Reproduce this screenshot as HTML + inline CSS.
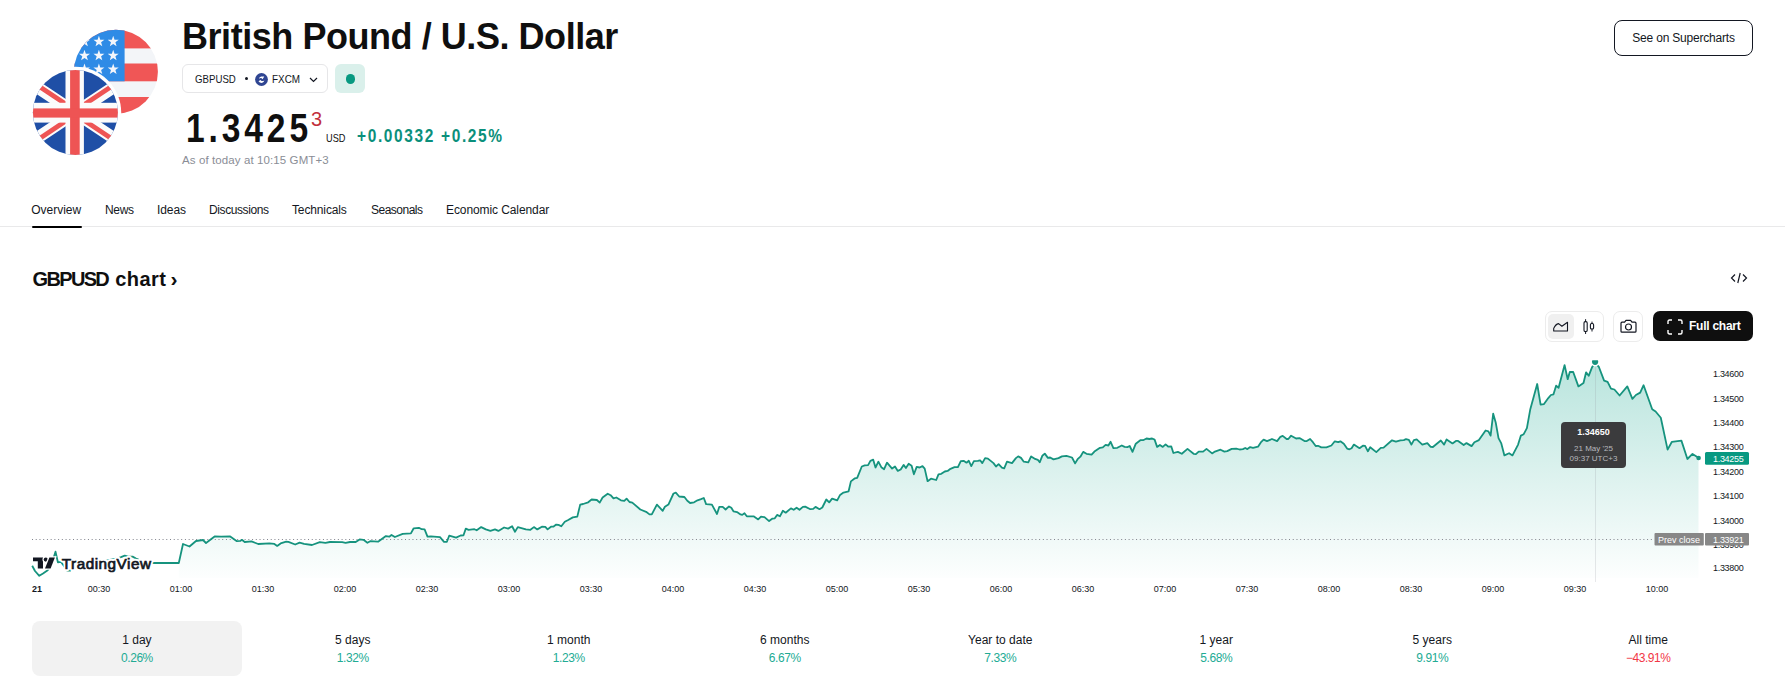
<!DOCTYPE html>
<html lang="en">
<head>
<meta charset="utf-8">
<title>British Pound / U.S. Dollar</title>
<style>
*{box-sizing:border-box;margin:0;padding:0}
html,body{width:1785px;height:699px;overflow:hidden;background:#fff}
body{font-family:"Liberation Sans",Arial,sans-serif;color:#131722;position:relative}
.a{position:absolute;white-space:nowrap}
.t{position:absolute;white-space:nowrap}
.btn-sc{left:1614px;top:20px;width:139px;height:35.5px;border:1px solid #131722;border-radius:8px;font-size:12px;line-height:34.5px;text-align:center;letter-spacing:-0.2px}
.pill{left:182px;top:64px;width:146px;height:29px;border:1px solid #e6e6e8;border-radius:6px}
.live{left:335px;top:64px;width:30px;height:29px;border-radius:6px;background:#daf0eb}
.live i{position:absolute;left:10.5px;top:10px;width:9.5px;height:9.5px;border-radius:50%;background:#089981}
.tabs span{position:absolute;top:203px;font-size:12px;line-height:14px}
.uline{left:32px;top:225.5px;width:50px;height:2.5px;background:#000;border-radius:1px}
.sep{left:0;top:226px;width:1785px;height:1px;background:#e9e9ea}
.perf{position:absolute;top:621px;height:55px;width:209.5px;border-radius:8px;text-align:center}
.perf.on{background:#f2f2f2}
.perf b{display:block;font-weight:normal;font-size:12px;line-height:14px;margin-top:12px;color:#131722}
.perf i{display:block;font-style:normal;font-size:12px;line-height:14px;margin-top:3.5px;letter-spacing:-0.45px;color:#22ab94}
.perf i.neg{color:#f23645}
.tb{position:absolute;top:311px;height:30.5px;border:1px solid #ececec;border-radius:7px}
.full{position:absolute;left:1653px;top:311px;width:100px;height:30px;background:#0f0f0f;border-radius:7px;color:#fff;font-weight:bold;font-size:12px;line-height:30px}
</style>
</head>
<body>
<!-- flags -->
<svg class="a" style="left:0;top:0" width="170" height="170" viewBox="0 0 170 170">
  <defs>
    <clipPath id="cus"><circle cx="115.9" cy="71.8" r="42"/></clipPath>
    <clipPath id="cuk"><circle cx="75.4" cy="112.6" r="42.5"/></clipPath>
  </defs>
  <g clip-path="url(#cus)">
    <rect x="70" y="26" width="92" height="92" fill="#f3f5f8"/>
    <rect x="70" y="26" width="92" height="22.4" fill="#f05656"/>
    <rect x="70" y="63.5" width="92" height="17.8" fill="#f05656"/>
    <rect x="70" y="97" width="92" height="21" fill="#f05656"/>
    <rect x="70" y="26" width="54.6" height="55.3" fill="#2f8be6"/>
    <polygon points="84.50,35.80 85.85,39.75 90.00,39.80 86.70,42.30 87.90,46.30 84.50,43.90 81.10,46.30 82.30,42.30 79.00,39.80 83.15,39.75" fill="#f4f6fb"/><polygon points="98.90,35.80 100.25,39.75 104.40,39.80 101.10,42.30 102.30,46.30 98.90,43.90 95.50,46.30 96.70,42.30 93.40,39.80 97.55,39.75" fill="#f4f6fb"/><polygon points="113.20,35.80 114.55,39.75 118.70,39.80 115.40,42.30 116.60,46.30 113.20,43.90 109.80,46.30 111.00,42.30 107.70,39.80 111.85,39.75" fill="#f4f6fb"/>
    <polygon points="84.50,49.80 85.85,53.75 90.00,53.80 86.70,56.30 87.90,60.30 84.50,57.90 81.10,60.30 82.30,56.30 79.00,53.80 83.15,53.75" fill="#f4f6fb"/><polygon points="98.90,49.80 100.25,53.75 104.40,53.80 101.10,56.30 102.30,60.30 98.90,57.90 95.50,60.30 96.70,56.30 93.40,53.80 97.55,53.75" fill="#f4f6fb"/><polygon points="113.20,49.80 114.55,53.75 118.70,53.80 115.40,56.30 116.60,60.30 113.20,57.90 109.80,60.30 111.00,56.30 107.70,53.80 111.85,53.75" fill="#f4f6fb"/>
    <polygon points="84.50,63.60 85.85,67.55 90.00,67.60 86.70,70.10 87.90,74.10 84.50,71.70 81.10,74.10 82.30,70.10 79.00,67.60 83.15,67.55" fill="#f4f6fb"/><polygon points="98.90,63.60 100.25,67.55 104.40,67.60 101.10,70.10 102.30,74.10 98.90,71.70 95.50,74.10 96.70,70.10 93.40,67.60 97.55,67.55" fill="#f4f6fb"/><polygon points="113.20,63.60 114.55,67.55 118.70,67.60 115.40,70.10 116.60,74.10 113.20,71.70 109.80,74.10 111.00,70.10 107.70,67.60 111.85,67.55" fill="#f4f6fb"/>
  </g>
  <circle cx="75.4" cy="112.6" r="45.8" fill="#fff"/>
  <g clip-path="url(#cuk)">
    <rect x="30" y="68" width="92" height="92" fill="#1f4fa6"/>
    <path d="M11.6,70.1 L139.2,155.1 M11.6,155.1 L139.2,70.1" stroke="#fbfbfb" stroke-width="12"/>
    <path d="M11.6,68.1 L75.4,110.6 M139.2,157.1 L75.4,114.6 M11.6,157.1 L75.4,114.6 M139.2,68.1 L75.4,110.6" stroke="#ee5454" stroke-width="4.8"/>
    <rect x="65.5" y="68" width="18.4" height="92" fill="#fbfbfb"/>
    <rect x="30" y="102.8" width="92" height="19.8" fill="#fbfbfb"/>
    <rect x="70.1" y="68" width="9.6" height="92" fill="#ee5454"/>
    <rect x="30" y="108.4" width="92" height="9.2" fill="#ee5454"/>
  </g>
</svg>

<div class="t" style="left:182px;top:19px;font-size:36px;line-height:36px;font-weight:bold;letter-spacing:-0.45px;color:#0f0f0f">British Pound / U.S. Dollar</div>

<div class="a pill">
  <span class="t" style="left:11.8px;top:7.7px;font-size:11.5px;line-height:12px;transform:scaleX(0.84);transform-origin:0 0">GBPUSD</span>
  <span class="t" style="left:61.5px;top:12px;width:3px;height:3px;border-radius:50%;background:#131722"></span>
  <svg class="a" style="left:71.9px;top:8.1px" width="13" height="13" viewBox="0 0 13 13"><circle cx="6.5" cy="6.5" r="6.4" fill="#2f4592"/><path d="M3.9,5.7 Q4.3,4 6.2,3.5 L9.3,3.6 L7.5,6.3 L6.3,5.1 Q5,5 3.9,5.7 Z M3.5,8.2 L5.4,6.9 L6.6,8 Q8.2,8 9.4,7.5 Q9,9.3 6.8,9.9 Q4.6,9.9 3.5,8.2 Z" fill="#fff"/></svg>
  <span class="t" style="left:89px;top:7.7px;font-size:11.5px;line-height:12px;transform:scaleX(0.86);transform-origin:0 0">FXCM</span>
  <svg class="a" style="left:126px;top:12px" width="9" height="6" viewBox="0 0 9 6"><path d="M1,1 L4.5,4.5 L8,1" stroke="#131722" stroke-width="1.2" fill="none"/></svg>
</div>
<div class="a live"><i></i></div>

<div class="t" style="left:185.5px;top:108px;font-size:40px;line-height:40px;font-weight:bold;letter-spacing:4.6px;transform:scaleX(0.84);transform-origin:0 0;color:#0f0f0f">1.3425</div>
<div class="t" style="left:311px;top:109px;font-size:20px;line-height:20px;color:#c22f3b">3</div>
<div class="t" style="left:326px;top:132px;font-size:11.5px;line-height:12px;transform:scaleX(0.8);transform-origin:0 0;color:#0f0f0f">USD</div>
<div class="t" style="left:357px;top:126px;font-size:18px;line-height:20px;font-weight:bold;letter-spacing:1.9px;transform:scaleX(0.86);transform-origin:0 0;color:#0b8f7b">+0.00332 +0.25%</div>
<div class="t" style="left:182px;top:154px;font-size:11.5px;line-height:12px;letter-spacing:0.1px;color:#8a8d96">As of today at 10:15 GMT+3</div>

<div class="a btn-sc">See on Supercharts</div>

<div class="tabs">
  <span style="left:31.2px">Overview</span>
  <span style="left:105px;letter-spacing:-0.3px">News</span>
  <span style="left:157px;letter-spacing:-0.1px">Ideas</span>
  <span style="left:209px;letter-spacing:-0.4px">Discussions</span>
  <span style="left:292px;letter-spacing:-0.13px">Technicals</span>
  <span style="left:371px;letter-spacing:-0.5px">Seasonals</span>
  <span style="left:446px;letter-spacing:-0.09px">Economic Calendar</span>
</div>
<div class="a sep"></div>
<div class="a uline"></div>

<div class="t" style="left:32.5px;top:269px;font-size:20px;line-height:20px;font-weight:bold;color:#0f0f0f"><span style="letter-spacing:-1.65px">GBPUSD</span> <span style="letter-spacing:0.45px;margin-left:1.5px">chart</span><span style="margin-left:4px;font-size:21px">›</span></div>

<!-- embed icon -->
<svg class="a" style="left:1729px;top:270px" width="20" height="16" viewBox="0 0 20 16"><path d="M6,4.5 L2.5,8 L6,11.5 M14,4.5 L17.5,8 L14,11.5 M11.2,3 L8.8,13" stroke="#131722" stroke-width="1.2" fill="none"/></svg>

<!-- chart toolbar -->
<div class="tb" style="left:1545px;width:58.5px"></div>
<div class="a" style="left:1547.5px;top:314px;width:26.5px;height:25px;border-radius:5px;background:#f0f0f0"></div>
<svg class="a" style="left:1550px;top:316px" width="22" height="20" viewBox="0 0 22 20"><path d="M3.7,15 L3.7,12.4 Q5.5,8.2 8.6,7.6 L11.9,10.3 L17.5,6.3 L17.5,15 Z" stroke="#131722" stroke-width="1.1" fill="none" stroke-linejoin="round"/></svg>
<svg class="a" style="left:1578px;top:316px" width="22" height="20" viewBox="0 0 22 20"><path d="M7.6,3.2 V18 M14,5.6 V15.5" stroke="#131722" stroke-width="1"/><rect x="6" y="5.6" width="3.2" height="9.9" rx="1.3" stroke="#131722" stroke-width="1.1" fill="#fff"/><rect x="12.4" y="7.5" width="3.2" height="5.5" rx="1.3" stroke="#131722" stroke-width="1.1" fill="#fff"/></svg>
<div class="tb" style="left:1613.3px;width:30px"></div>
<svg class="a" style="left:1617px;top:316px" width="22" height="20" viewBox="0 0 22 20"><path d="M4,7.2 Q4,6.2 5,6.2 L7.6,6.2 L9,4.4 L13.6,4.4 L15,6.2 L18,6.2 Q19,6.2 19,7.2 L19,15.2 Q19,16.2 18,16.2 L5,16.2 Q4,16.2 4,15.2 Z" stroke="#131722" stroke-width="1.2" fill="none" stroke-linejoin="round"/><circle cx="11.5" cy="11" r="3" stroke="#131722" stroke-width="1.2" fill="none"/></svg>
<div class="full">
  <svg class="a" style="left:14px;top:7.5px" width="16" height="16" viewBox="0 0 16 16"><path d="M1,5 V2.5 Q1,1 2.5,1 H5 M11,1 H13.5 Q15,1 15,2.5 V5 M15,11 V13.5 Q15,15 13.5,15 H11 M5,15 H2.5 Q1,15 1,13.5 V11" stroke="#fff" stroke-width="1.4" fill="none"/></svg>
  <span class="t" style="left:36px;top:0;letter-spacing:-0.25px">Full chart</span>
</div>

<!-- chart -->
<svg class="a" style="left:0;top:0" width="1785" height="699" viewBox="0 0 1785 699">
  <defs>
    <linearGradient id="gf" x1="0" y1="360" x2="0" y2="578" gradientUnits="userSpaceOnUse">
      <stop offset="0" stop-color="#22ab94" stop-opacity="0.32"/>
      <stop offset="1" stop-color="#22ab94" stop-opacity="0.01"/>
    </linearGradient>
  </defs>
  <clipPath id="pane"><rect x="0" y="360.2" width="1705" height="218"/></clipPath>
  <path d="M178.8,563.0 L183.0,544.0 L189.5,546.5 L196.0,541.0 L203.0,540.0 L206.0,543.0 L210.0,540.0 L214.6,536.5 L221.2,536.7 L230.2,536.4 L236.9,541.2 L240.3,540.9 L241.9,539.8 L244.7,542.0 L251.5,541.4 L258.2,544.0 L269.4,543.4 L274.4,543.9 L277.2,545.9 L280.6,543.4 L286.2,541.7 L288.4,541.9 L295.2,544.5 L299.6,542.6 L304.1,543.9 L312.0,545.0 L319.8,542.2 L325.4,542.9 L329.9,542.0 L342.2,542.2 L345.6,542.9 L350.0,542.0 L355.7,542.0 L359.6,539.4 L363.5,539.8 L367.4,542.8 L370.2,541.2 L378.1,541.7 L385.9,536.1 L389.3,536.7 L391.5,534.9 L394.9,537.0 L402.7,533.8 L410.9,533.4 L413.7,528.3 L418.9,527.8 L421.7,529.2 L424.6,529.4 L427.5,536.6 L430.9,536.3 L440.0,537.2 L444.0,541.8 L446.9,541.8 L449.2,535.7 L456.1,537.6 L460.6,535.5 L463.5,535.3 L465.8,528.6 L468.6,529.8 L474.4,529.2 L476.7,530.3 L481.2,527.1 L485.8,529.4 L490.4,530.9 L495.0,529.4 L498.4,530.9 L504.1,527.5 L508.1,528.6 L512.1,526.3 L515.0,531.7 L517.8,527.1 L525.9,529.4 L530.4,529.8 L533.9,527.1 L537.3,529.4 L541.9,526.7 L545.3,526.9 L547.6,529.4 L551.0,526.7 L553.3,526.7 L556.2,524.6 L558.5,524.9 L561.3,526.3 L564.8,521.8 L568.2,520.0 L572.8,517.4 L577.3,516.6 L580.2,504.6 L583.1,504.0 L588.2,502.3 L591.6,499.5 L596.9,500.0 L599.7,502.6 L602.6,497.5 L607.7,493.7 L610.6,495.2 L613.5,498.4 L616.3,497.5 L620.9,500.3 L624.3,500.9 L626.6,498.6 L629.5,502.0 L632.3,502.6 L640.3,509.5 L646.1,511.8 L649.5,514.4 L651.8,514.4 L656.9,504.6 L662.7,510.8 L664.9,506.8 L668.4,504.6 L673.5,493.5 L675.8,492.7 L679.2,496.5 L684.4,497.0 L687.3,500.7 L690.1,503.0 L694.1,502.3 L697.5,500.3 L701.0,499.2 L703.8,498.0 L706.1,504.1 L711.9,504.6 L717.0,514.0 L719.3,506.8 L722.7,506.8 L725.6,509.5 L729.0,506.4 L731.3,507.8 L733.6,511.4 L737.0,512.1 L740.5,514.4 L742.2,514.9 L744.5,513.2 L746.8,516.3 L753.6,516.3 L758.2,519.4 L761.0,516.7 L764.5,517.1 L769.1,521.1 L772.5,518.6 L774.8,518.3 L777.1,514.9 L779.9,516.3 L782.9,510.7 L785.7,512.7 L790.9,508.4 L793.7,509.8 L796.6,507.7 L799.5,509.8 L802.9,506.9 L805.2,506.6 L810.3,509.2 L813.2,508.9 L815.5,506.9 L819.5,509.2 L822.3,507.5 L826.3,499.5 L829.2,502.4 L832.1,498.6 L837.2,500.4 L840.1,494.9 L843.5,492.6 L848.6,491.3 L850.9,481.4 L854.9,478.3 L857.2,477.8 L861.8,466.5 L864.7,465.4 L868.1,465.2 L870.4,460.8 L873.2,459.7 L875.5,467.5 L878.4,461.7 L881.3,467.2 L884.1,469.2 L887.0,462.7 L892.1,468.6 L895.0,466.5 L897.8,470.9 L900.7,469.5 L903.6,464.9 L905.9,468.0 L908.7,463.8 L911.6,465.7 L913.9,474.3 L916.7,466.9 L919.6,467.5 L922.5,466.1 L924.7,468.6 L927.6,481.2 L931.0,478.7 L936.2,480.0 L938.5,474.3 L941.3,473.8 L944.8,471.5 L947.6,470.9 L950.5,468.8 L954.5,467.2 L957.9,467.2 L960.8,461.2 L963.6,460.8 L966.5,462.7 L968.8,460.8 L971.3,466.1 L973.9,461.2 L977.8,460.9 L980.1,460.3 L982.3,463.1 L985.1,458.1 L987.9,458.6 L993.5,463.1 L996.0,466.5 L998.6,464.2 L1001.9,467.6 L1004.2,468.4 L1007.0,461.7 L1012.0,463.1 L1015.9,458.1 L1018.2,456.4 L1021.0,457.9 L1023.8,461.7 L1028.3,462.3 L1031.1,456.4 L1034.4,458.6 L1037.8,459.8 L1039.7,462.3 L1042.3,455.8 L1044.8,453.6 L1047.9,457.9 L1050.1,457.5 L1053.5,459.4 L1058.5,458.1 L1061.9,456.4 L1066.4,455.8 L1072.0,457.5 L1075.1,463.4 L1077.6,459.2 L1080.4,456.7 L1083.2,451.9 L1086.5,453.8 L1091.6,454.7 L1094.4,451.6 L1100.0,447.8 L1102.8,447.4 L1105.6,444.9 L1108.4,445.5 L1110.6,441.8 L1113.4,448.2 L1117.3,447.8 L1121.8,445.5 L1124.6,446.9 L1127.4,447.1 L1129.7,446.0 L1132.5,451.9 L1135.8,443.7 L1140.3,440.2 L1143.1,440.2 L1146.5,438.5 L1149.3,439.0 L1152.1,438.5 L1154.6,439.6 L1157.1,446.9 L1159.9,444.9 L1162.8,446.9 L1165.6,444.4 L1168.4,446.7 L1171.2,446.3 L1173.4,453.0 L1177.9,451.9 L1181.8,453.8 L1187.5,448.9 L1193.6,453.8 L1195.9,454.2 L1198.7,451.6 L1203.1,451.6 L1206.5,448.9 L1212.1,453.4 L1214.9,451.6 L1220.5,449.7 L1224.4,451.6 L1227.2,451.1 L1231.7,448.9 L1236.2,448.6 L1239.6,449.5 L1242.9,449.1 L1245.2,448.0 L1247.4,449.1 L1250.2,447.1 L1253.0,447.8 L1258.0,446.7 L1260.8,442.4 L1263.6,439.6 L1267.0,441.1 L1272.0,439.0 L1277.1,441.1 L1280.4,436.8 L1282.7,435.9 L1286.6,439.0 L1288.3,439.0 L1291.1,435.7 L1296.1,438.5 L1299.5,438.1 L1304.5,441.1 L1306.8,441.1 L1310.1,439.0 L1312.9,442.2 L1315.7,446.0 L1318.0,445.8 L1321.3,447.4 L1326.4,447.4 L1331.4,445.5 L1334.8,441.3 L1338.2,442.2 L1340.4,441.3 L1343.8,443.7 L1347.1,448.6 L1349.4,449.3 L1351.6,448.2 L1353.9,444.6 L1359.5,448.2 L1362.9,445.7 L1365.1,445.9 L1367.9,451.3 L1370.2,447.3 L1376.3,452.1 L1380.8,447.9 L1383.6,447.6 L1392.0,440.3 L1395.9,441.7 L1400.4,440.3 L1403.8,440.1 L1406.0,439.2 L1408.8,439.8 L1411.4,444.6 L1413.9,440.1 L1416.7,439.4 L1422.3,444.6 L1427.3,443.1 L1430.7,446.8 L1432.9,447.0 L1440.8,440.5 L1444.1,444.6 L1446.6,439.4 L1452.5,443.4 L1455.9,440.9 L1458.1,440.9 L1463.7,445.0 L1466.5,443.1 L1471.6,446.1 L1474.4,442.3 L1478.9,440.1 L1485.6,430.5 L1488.4,431.4 L1490.6,435.6 L1493.2,413.7 L1495.7,422.4 L1498.5,438.1 L1501.3,443.4 L1504.4,455.4 L1509.1,453.2 L1512.5,455.4 L1518.1,444.6 L1520.9,435.6 L1523.7,434.2 L1526.9,428.1 L1530.3,409.2 L1537.2,384.0 L1540.6,404.6 L1544.0,404.1 L1548.3,398.1 L1550.9,395.0 L1553.5,394.3 L1556.1,385.7 L1558.6,387.8 L1564.6,365.1 L1567.7,379.2 L1569.8,372.0 L1573.2,372.0 L1578.4,386.4 L1583.5,383.0 L1586.1,372.3 L1588.7,375.8 L1592.1,367.2 L1595.0,362.4 L1599.0,367.2 L1604.1,380.6 L1607.6,381.8 L1611.0,388.6 L1614.4,389.5 L1619.6,395.5 L1627.3,386.4 L1632.4,398.9 L1635.9,395.0 L1640.2,392.6 L1643.6,385.2 L1652.2,409.2 L1655.6,411.5 L1660.8,417.8 L1667.6,449.6 L1671.9,441.8 L1681.4,440.6 L1687.4,459.0 L1692.5,453.9 L1698.5,457.8 L1698.5,578 L178.8,578 Z" fill="url(#gf)"/>
  <line x1="32" y1="539.5" x2="1654" y2="539.5" stroke="#80838c" stroke-width="1" stroke-dasharray="1 2.73"/>
  <line x1="1595.5" y1="362" x2="1595.5" y2="582" stroke="#9598a1" stroke-width="1" opacity="0.22"/>
  <path d="M32.2,565.8 L35.0,571.0 L39.3,575.8 L43.0,573.5 L47.7,570.2 L51.0,566.0 L55.5,551.7 L57.9,562.3 L61.0,561.9 L64.0,566.0 L67.0,570.6 L70.0,570.6 L75.0,568.0 L82.0,566.0 L90.0,564.0 L100.0,562.0 L110.0,560.0 L117.0,558.5 L121.0,557.2 L124.8,555.6 L128.0,556.6 L132.6,556.6 L136.0,558.5 L142.0,561.0 L148.0,562.5 L153.0,563.0 L178.8,563.0 L183.0,544.0 L189.5,546.5 L196.0,541.0 L203.0,540.0 L206.0,543.0 L210.0,540.0 L214.6,536.5 L221.2,536.7 L230.2,536.4 L236.9,541.2 L240.3,540.9 L241.9,539.8 L244.7,542.0 L251.5,541.4 L258.2,544.0 L269.4,543.4 L274.4,543.9 L277.2,545.9 L280.6,543.4 L286.2,541.7 L288.4,541.9 L295.2,544.5 L299.6,542.6 L304.1,543.9 L312.0,545.0 L319.8,542.2 L325.4,542.9 L329.9,542.0 L342.2,542.2 L345.6,542.9 L350.0,542.0 L355.7,542.0 L359.6,539.4 L363.5,539.8 L367.4,542.8 L370.2,541.2 L378.1,541.7 L385.9,536.1 L389.3,536.7 L391.5,534.9 L394.9,537.0 L402.7,533.8 L410.9,533.4 L413.7,528.3 L418.9,527.8 L421.7,529.2 L424.6,529.4 L427.5,536.6 L430.9,536.3 L440.0,537.2 L444.0,541.8 L446.9,541.8 L449.2,535.7 L456.1,537.6 L460.6,535.5 L463.5,535.3 L465.8,528.6 L468.6,529.8 L474.4,529.2 L476.7,530.3 L481.2,527.1 L485.8,529.4 L490.4,530.9 L495.0,529.4 L498.4,530.9 L504.1,527.5 L508.1,528.6 L512.1,526.3 L515.0,531.7 L517.8,527.1 L525.9,529.4 L530.4,529.8 L533.9,527.1 L537.3,529.4 L541.9,526.7 L545.3,526.9 L547.6,529.4 L551.0,526.7 L553.3,526.7 L556.2,524.6 L558.5,524.9 L561.3,526.3 L564.8,521.8 L568.2,520.0 L572.8,517.4 L577.3,516.6 L580.2,504.6 L583.1,504.0 L588.2,502.3 L591.6,499.5 L596.9,500.0 L599.7,502.6 L602.6,497.5 L607.7,493.7 L610.6,495.2 L613.5,498.4 L616.3,497.5 L620.9,500.3 L624.3,500.9 L626.6,498.6 L629.5,502.0 L632.3,502.6 L640.3,509.5 L646.1,511.8 L649.5,514.4 L651.8,514.4 L656.9,504.6 L662.7,510.8 L664.9,506.8 L668.4,504.6 L673.5,493.5 L675.8,492.7 L679.2,496.5 L684.4,497.0 L687.3,500.7 L690.1,503.0 L694.1,502.3 L697.5,500.3 L701.0,499.2 L703.8,498.0 L706.1,504.1 L711.9,504.6 L717.0,514.0 L719.3,506.8 L722.7,506.8 L725.6,509.5 L729.0,506.4 L731.3,507.8 L733.6,511.4 L737.0,512.1 L740.5,514.4 L742.2,514.9 L744.5,513.2 L746.8,516.3 L753.6,516.3 L758.2,519.4 L761.0,516.7 L764.5,517.1 L769.1,521.1 L772.5,518.6 L774.8,518.3 L777.1,514.9 L779.9,516.3 L782.9,510.7 L785.7,512.7 L790.9,508.4 L793.7,509.8 L796.6,507.7 L799.5,509.8 L802.9,506.9 L805.2,506.6 L810.3,509.2 L813.2,508.9 L815.5,506.9 L819.5,509.2 L822.3,507.5 L826.3,499.5 L829.2,502.4 L832.1,498.6 L837.2,500.4 L840.1,494.9 L843.5,492.6 L848.6,491.3 L850.9,481.4 L854.9,478.3 L857.2,477.8 L861.8,466.5 L864.7,465.4 L868.1,465.2 L870.4,460.8 L873.2,459.7 L875.5,467.5 L878.4,461.7 L881.3,467.2 L884.1,469.2 L887.0,462.7 L892.1,468.6 L895.0,466.5 L897.8,470.9 L900.7,469.5 L903.6,464.9 L905.9,468.0 L908.7,463.8 L911.6,465.7 L913.9,474.3 L916.7,466.9 L919.6,467.5 L922.5,466.1 L924.7,468.6 L927.6,481.2 L931.0,478.7 L936.2,480.0 L938.5,474.3 L941.3,473.8 L944.8,471.5 L947.6,470.9 L950.5,468.8 L954.5,467.2 L957.9,467.2 L960.8,461.2 L963.6,460.8 L966.5,462.7 L968.8,460.8 L971.3,466.1 L973.9,461.2 L977.8,460.9 L980.1,460.3 L982.3,463.1 L985.1,458.1 L987.9,458.6 L993.5,463.1 L996.0,466.5 L998.6,464.2 L1001.9,467.6 L1004.2,468.4 L1007.0,461.7 L1012.0,463.1 L1015.9,458.1 L1018.2,456.4 L1021.0,457.9 L1023.8,461.7 L1028.3,462.3 L1031.1,456.4 L1034.4,458.6 L1037.8,459.8 L1039.7,462.3 L1042.3,455.8 L1044.8,453.6 L1047.9,457.9 L1050.1,457.5 L1053.5,459.4 L1058.5,458.1 L1061.9,456.4 L1066.4,455.8 L1072.0,457.5 L1075.1,463.4 L1077.6,459.2 L1080.4,456.7 L1083.2,451.9 L1086.5,453.8 L1091.6,454.7 L1094.4,451.6 L1100.0,447.8 L1102.8,447.4 L1105.6,444.9 L1108.4,445.5 L1110.6,441.8 L1113.4,448.2 L1117.3,447.8 L1121.8,445.5 L1124.6,446.9 L1127.4,447.1 L1129.7,446.0 L1132.5,451.9 L1135.8,443.7 L1140.3,440.2 L1143.1,440.2 L1146.5,438.5 L1149.3,439.0 L1152.1,438.5 L1154.6,439.6 L1157.1,446.9 L1159.9,444.9 L1162.8,446.9 L1165.6,444.4 L1168.4,446.7 L1171.2,446.3 L1173.4,453.0 L1177.9,451.9 L1181.8,453.8 L1187.5,448.9 L1193.6,453.8 L1195.9,454.2 L1198.7,451.6 L1203.1,451.6 L1206.5,448.9 L1212.1,453.4 L1214.9,451.6 L1220.5,449.7 L1224.4,451.6 L1227.2,451.1 L1231.7,448.9 L1236.2,448.6 L1239.6,449.5 L1242.9,449.1 L1245.2,448.0 L1247.4,449.1 L1250.2,447.1 L1253.0,447.8 L1258.0,446.7 L1260.8,442.4 L1263.6,439.6 L1267.0,441.1 L1272.0,439.0 L1277.1,441.1 L1280.4,436.8 L1282.7,435.9 L1286.6,439.0 L1288.3,439.0 L1291.1,435.7 L1296.1,438.5 L1299.5,438.1 L1304.5,441.1 L1306.8,441.1 L1310.1,439.0 L1312.9,442.2 L1315.7,446.0 L1318.0,445.8 L1321.3,447.4 L1326.4,447.4 L1331.4,445.5 L1334.8,441.3 L1338.2,442.2 L1340.4,441.3 L1343.8,443.7 L1347.1,448.6 L1349.4,449.3 L1351.6,448.2 L1353.9,444.6 L1359.5,448.2 L1362.9,445.7 L1365.1,445.9 L1367.9,451.3 L1370.2,447.3 L1376.3,452.1 L1380.8,447.9 L1383.6,447.6 L1392.0,440.3 L1395.9,441.7 L1400.4,440.3 L1403.8,440.1 L1406.0,439.2 L1408.8,439.8 L1411.4,444.6 L1413.9,440.1 L1416.7,439.4 L1422.3,444.6 L1427.3,443.1 L1430.7,446.8 L1432.9,447.0 L1440.8,440.5 L1444.1,444.6 L1446.6,439.4 L1452.5,443.4 L1455.9,440.9 L1458.1,440.9 L1463.7,445.0 L1466.5,443.1 L1471.6,446.1 L1474.4,442.3 L1478.9,440.1 L1485.6,430.5 L1488.4,431.4 L1490.6,435.6 L1493.2,413.7 L1495.7,422.4 L1498.5,438.1 L1501.3,443.4 L1504.4,455.4 L1509.1,453.2 L1512.5,455.4 L1518.1,444.6 L1520.9,435.6 L1523.7,434.2 L1526.9,428.1 L1530.3,409.2 L1537.2,384.0 L1540.6,404.6 L1544.0,404.1 L1548.3,398.1 L1550.9,395.0 L1553.5,394.3 L1556.1,385.7 L1558.6,387.8 L1564.6,365.1 L1567.7,379.2 L1569.8,372.0 L1573.2,372.0 L1578.4,386.4 L1583.5,383.0 L1586.1,372.3 L1588.7,375.8 L1592.1,367.2 L1595.0,362.4 L1599.0,367.2 L1604.1,380.6 L1607.6,381.8 L1611.0,388.6 L1614.4,389.5 L1619.6,395.5 L1627.3,386.4 L1632.4,398.9 L1635.9,395.0 L1640.2,392.6 L1643.6,385.2 L1652.2,409.2 L1655.6,411.5 L1660.8,417.8 L1667.6,449.6 L1671.9,441.8 L1681.4,440.6 L1687.4,459.0 L1692.5,453.9 L1698.5,457.8" fill="none" stroke="#16937e" stroke-width="1.8" stroke-linejoin="round"/>
  <g clip-path="url(#pane)"><circle cx="1595.1" cy="361.8" r="4.6" fill="#fff"/><circle cx="1595.1" cy="361.8" r="3.1" fill="#16937e"/></g>
  <circle cx="1698.6" cy="458" r="2.3" fill="#16937e"/>
  <!-- tradingview logo -->
  <g>
    <path d="M33,557.6 H43 V568.6 H37.8 V561.2 H33 Z" fill="#131722" stroke="#fff" stroke-width="2.5" paint-order="stroke"/>
    <circle cx="45.8" cy="559.6" r="2.1" fill="#131722" stroke="#fff" stroke-width="2.5" paint-order="stroke"/>
    <path d="M49.4,557.6 H54.9 L50.6,568.6 H45 Z" fill="#131722" stroke="#fff" stroke-width="2.5" paint-order="stroke"/>
    <text x="61.8" y="568.6" font-family="Liberation Sans" font-size="15.3" letter-spacing="0.5" fill="#131722" stroke="#fff" stroke-width="4.5" stroke-linejoin="round">TradingView</text>
    <text x="61.8" y="568.6" font-family="Liberation Sans" font-size="15.3" letter-spacing="0.5" fill="#131722" stroke="#131722" stroke-width="0.7">TradingView</text>
  </g>
  <!-- x axis labels -->
  <g font-family="Liberation Sans" font-size="9" fill="#131722" text-anchor="middle">
    <text x="37" y="592.3" font-weight="bold">21</text>
    <text x="99" y="592.3">00:30</text>
    <text x="181" y="592.3">01:00</text>
    <text x="263" y="592.3">01:30</text>
    <text x="345" y="592.3">02:00</text>
    <text x="427" y="592.3">02:30</text>
    <text x="509" y="592.3">03:00</text>
    <text x="591" y="592.3">03:30</text>
    <text x="673" y="592.3">04:00</text>
    <text x="755" y="592.3">04:30</text>
    <text x="837" y="592.3">05:00</text>
    <text x="919" y="592.3">05:30</text>
    <text x="1001" y="592.3">06:00</text>
    <text x="1083" y="592.3">06:30</text>
    <text x="1165" y="592.3">07:00</text>
    <text x="1247" y="592.3">07:30</text>
    <text x="1329" y="592.3">08:00</text>
    <text x="1411" y="592.3">08:30</text>
    <text x="1493" y="592.3">09:00</text>
    <text x="1575" y="592.3">09:30</text>
    <text x="1657" y="592.3">10:00</text>
  </g>
  <!-- y axis labels -->
  <g font-family="Liberation Sans" font-size="9" fill="#131722" letter-spacing="-0.3">
    <text x="1713" y="377.4">1.34600</text>
    <text x="1713" y="401.6">1.34500</text>
    <text x="1713" y="425.5">1.34400</text>
    <text x="1713" y="449.7">1.34300</text>
    <text x="1713" y="474.5">1.34200</text>
    <text x="1713" y="499.0">1.34100</text>
    <text x="1713" y="523.6">1.34000</text>
    <text x="1713" y="547.7">1.33900</text>
    <text x="1713" y="571.4">1.33800</text>
  </g>
  <!-- last price label -->
  <rect x="1705" y="452" width="44" height="12.7" rx="1.5" fill="#089981"/>
  <text x="1713" y="461.5" font-family="Liberation Sans" font-size="9" letter-spacing="-0.3" fill="#fff">1.34255</text>
  <!-- prev close -->
  <rect x="1654.5" y="533" width="49.3" height="12.5" rx="1" fill="#878787"/>
  <text x="1658" y="542.5" font-family="Liberation Sans" font-size="9" fill="#fff">Prev close</text>
  <rect x="1705" y="533" width="44" height="12.5" rx="1" fill="#878787"/>
  <text x="1713" y="542.5" font-family="Liberation Sans" font-size="9" letter-spacing="-0.3" fill="#fff">1.33921</text>
  <!-- tooltip -->
  <rect x="1561" y="422" width="65" height="46" rx="4" fill="#3b3b3d"/>
  <text x="1593.5" y="435" font-family="Liberation Sans" font-size="9" font-weight="bold" fill="#fff" text-anchor="middle">1.34650</text>
  <text x="1593.5" y="451" font-family="Liberation Sans" font-size="8" fill="#b8b9bd" text-anchor="middle">21 May '25</text>
  <text x="1593.5" y="461" font-family="Liberation Sans" font-size="8" fill="#b8b9bd" text-anchor="middle">09:37 UTC+3</text>
</svg>

<!-- performance -->
<div class="perf on" style="left:32.2px"><b>1 day</b><i>0.26%</i></div>
<div class="perf" style="left:248px"><b>5 days</b><i>1.32%</i></div>
<div class="perf" style="left:464px"><b>1 month</b><i>1.23%</i></div>
<div class="perf" style="left:680px"><b>6 months</b><i>6.67%</i></div>
<div class="perf" style="left:895.5px"><b>Year to date</b><i>7.33%</i></div>
<div class="perf" style="left:1111.5px"><b>1 year</b><i>5.68%</i></div>
<div class="perf" style="left:1327.5px"><b>5 years</b><i>9.91%</i></div>
<div class="perf" style="left:1543.5px"><b>All time</b><i class="neg">&minus;43.91%</i></div>
</body>
</html>
